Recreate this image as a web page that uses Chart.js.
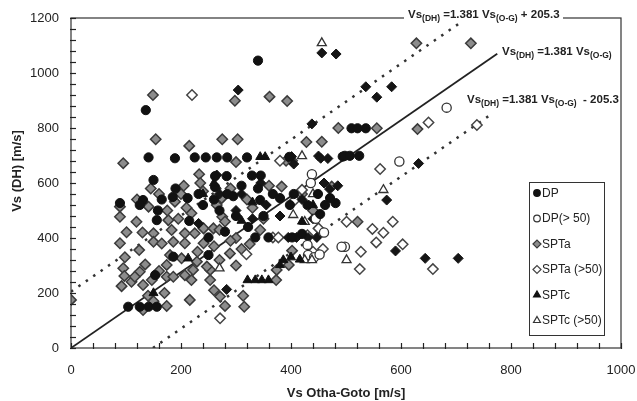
<!DOCTYPE html>
<html>
<head>
<meta charset="utf-8">
<script src="https://cdn.jsdelivr.net/npm/chart.js@4.4.0/dist/chart.umd.min.js"></script>
<style>
  html, body { margin: 0; padding: 0; background: #fff; }
  #wrap { width: 637px; height: 401px; }
</style>
</head>
<body>
<div id="wrap"><canvas id="myChart"></canvas></div>
<script>
// axis tick values (labels every 200, small marks every 40)
const xLabelTicks = [0, 200, 400, 600, 800, 1000];
const yLabelTicks = [0, 200, 400, 600, 800, 1000, 1200];

// DP, filled circles
const dpPoints = [
  [340,1045],[136,865],[141,693],[189,690],[225,693],[245,693],[265,693],[284,693],[320,693],
  [397,695],[494,696],[150,611],[262,625],[283,625],[329,627],[345,627],[510,799],[521,799],
  [536,799],[498,699],[507,699],[524,699],[89,527],[131,538],[165,540],[185,549],[104,150],
  [125,150],[141,150],[156,150],[153,265],[186,332],[250,338],[156,465],[280,423],[335,402],
  [359,402],[453,487],[481,527],[262,585],[344,538],[471,545],[284,560],[295,552],[367,560],
  [380,545],[398,520],[449,560],[462,520],[232,560],[212,545],[300,480],[322,440],[270,500],
  [240,520],[402,402],[420,415],[158,500],[215,462],[250,402],[190,580],[125,520],[310,590],
  [340,580],[405,560],[430,520],[350,480],[260,540]
];
// DP(> 50), open circles
const dpOpenPoints = [
  [438,632],[683,874],[597,678],[498,368],[492,368],[431,338],[442,330],[452,340],[430,375],
  [445,470],[460,420],[436,600]
];
// SPTa, grey diamonds
const sptaPoints = [
  [0,175],[95,672],[149,920],[154,759],[215,735],[233,632],[275,759],[303,759],[298,899],
  [361,914],[393,898],[428,749],[456,750],[486,800],[300,676],[391,681],[402,681],[628,1108],
  [727,1108],[556,799],[630,796],[521,459],[89,514],[89,477],[119,459],[101,421],[89,381],
  [98,330],[95,290],[97,262],[92,225],[110,241],[131,138],[174,153],[216,175],[124,356],
  [135,304],[125,277],[116,259],[131,229],[147,247],[150,417],[150,386],[183,429],[186,386],
  [180,338],[174,302],[174,259],[186,259],[177,465],[141,514],[207,417],[207,381],[201,326],
  [207,265],[229,314],[222,284],[219,247],[241,381],[241,435],[253,247],[253,284],[225,417],
  [247,296],[259,435],[189,532],[219,490],[275,477],[344,429],[325,378],[289,344],[402,354],
  [396,302],[374,284],[373,247],[271,187],[313,190],[315,150],[280,153],[274,545],[383,587],
  [474,587],[160,560],[175,500],[200,560],[210,510],[240,570],[265,520],[290,580],[330,510],
  [350,470],[420,560],[440,500],[300,400],[310,360],[270,320],[230,350],[260,370],[280,460],
  [195,470],[130,420],[165,380],[160,280],[140,190],[260,210],[290,390],[145,580],[120,540],
  [235,600],[205,590],[320,540],[360,590],[270,430],[300,300],[170,200],[150,170]
];
// SPTa (>50), open diamonds
const sptaOpenPoints = [
  [220,920],[380,681],[650,820],[738,811],[562,651],[501,459],[585,459],[548,433],[568,419],
  [555,384],[527,350],[525,287],[603,377],[658,287],[367,402],[377,402],[450,435],[319,341],
  [271,108],[420,575],[407,538],[430,410],[440,350],[458,360]
];
// SPTc, filled triangles
const sptcPoints = [
  [344,695],[353,695],[310,463],[213,326],[416,322],[386,320],[380,302],[321,247],[335,247],
  [347,247],[359,247],[400,330],[440,520],[420,460],[240,560],[330,530],[150,200],[260,600]
];
// SPTc (>50), open triangles
const sptcOpenPoints = [
  [456,1109],[420,698],[568,575],[501,320],[404,484],[425,459],[425,320],[438,320],[270,290],
  [440,560]
];
// black diamonds without a legend entry
const blackDiamondPoints = [
  [304,938],[456,1073],[482,1069],[536,950],[556,912],[583,950],[438,815],[405,669],[450,698],
  [467,689],[401,696],[632,671],[574,538],[590,353],[644,326],[704,326],[283,213],[232,453],
  [395,402],[410,402],[431,402],[447,402],[265,629],[355,520],[460,600],[470,578],[300,500],
  [330,470],[310,560],[420,540],[440,470],[380,480],[454,690],[270,560],[345,600],[485,590]
];
// line end points (Vs(DH) = 1.381 Vs(O-G) +/- 205.3)
const fitLine = [[0,0],[775,1070]];
const upperLine = [[0,205],[705,1179]];
const lowerLine = [[149,0],[765,851]];

const toXY = arr => arr.map(p => ({ x: p[0], y: p[1] }));

const ctx = document.getElementById('myChart');

const drawMarker = (c, style, x, y, r) => {
  c.beginPath();
  if (style === 'circle') {
    c.arc(x, y, r, 0, Math.PI * 2);
  } else if (style === 'rectRot') {
    c.moveTo(x - r, y); c.lineTo(x, y - r); c.lineTo(x + r, y); c.lineTo(x, y + r); c.closePath();
  } else {
    c.moveTo(x, y - r);
    c.lineTo(x + r * 0.866, y + r * 0.5);
    c.lineTo(x - r * 0.866, y + r * 0.5);
    c.closePath();
  }
  c.fill();
  c.stroke();
};

const drawEq = (c, x, base, tail) => {
  const parts = [['Vs', 0], ['(DH)', 1], [' =1.381 Vs', 0], ['(O-G)', 1], [tail, 0]];
  let cx = x;
  c.fillStyle = '#222';
  c.textAlign = 'left';
  c.textBaseline = 'alphabetic';
  parts.forEach(p => {
    c.font = p[1] ? 'bold 8.5px "Liberation Sans", Arial' : 'bold 11.5px "Liberation Sans", Arial';
    c.fillText(p[0], cx, base + (p[1] ? 2.5 : 0));
    cx += c.measureText(p[0]).width;
  });
  return cx;
};

const framePlugin = {
  id: 'frame',
  afterDatasetsDraw(chart) {
    const c = chart.ctx;
    const a = chart.chartArea;
    const xs = chart.scales.x, ys = chart.scales.y;
    c.save();
    c.strokeStyle = '#333';
    c.lineWidth = 1.2;
    c.strokeRect(a.left, a.top, a.right - a.left, a.bottom - a.top);
    // inward tick marks
    c.strokeStyle = '#222';
    c.lineWidth = 1.2;
    xs.ticks.forEach(t => {
      const px = Math.round(xs.getPixelForValue(t.value)) + 0.5;
      c.beginPath(); c.moveTo(px, a.bottom + 1); c.lineTo(px, a.bottom - 5); c.stroke();
    });
    ys.ticks.forEach(t => {
      const py = Math.round(ys.getPixelForValue(t.value)) + 0.5;
      c.beginPath(); c.moveTo(a.left - 1, py); c.lineTo(a.left + 5, py); c.stroke();
    });

    // y axis title
    c.save();
    c.translate(17, 171);
    c.rotate(-Math.PI / 2);
    c.fillStyle = '#222';
    c.font = 'bold 13px "Liberation Sans", Arial';
    c.textAlign = 'center';
    c.textBaseline = 'middle';
    c.fillText('Vs (DH) [m/s]', 0, 0);
    c.restore();

    // equation labels
    c.fillStyle = '#fff';
    c.fillRect(404, 8, 159, 12);
    drawEq(c, 408, 18, ' + 205.3');
    drawEq(c, 502, 55, '');
    drawEq(c, 467, 103, '  - 205.3');

    // legend box
    const lx = 529, ly = 182, lw = 75, lh = 153;
    c.fillStyle = '#fff';
    c.fillRect(lx, ly, lw, lh);
    c.strokeStyle = '#333';
    c.lineWidth = 1;
    c.strokeRect(lx + 0.5, ly + 0.5, lw, lh);
    const items = chart.data.datasets.filter(d => d.showInLegend);
    items.forEach((d, i) => {
      const y = 193 + i * 25.5;
      c.fillStyle = d.backgroundColor;
      c.strokeStyle = d.borderColor;
      c.lineWidth = 1.2;
      drawMarker(c, d.pointStyle, 537, y, d.pointStyle === 'circle' ? 3.3 : 4);
      c.fillStyle = '#222';
      c.font = '12px "Liberation Sans", Arial';
      c.textBaseline = 'middle';
      c.fillText(d.label, 542, y + 0.5);
    });
    c.restore();
  }
};

const mychart = () => {
  new Chart(ctx, {
    type: 'scatter',
    data: {
      datasets: [
        { label: 'DP', data: toXY(dpPoints), pointStyle: 'circle', pointRadius: 4.6,
          backgroundColor: '#111', borderColor: '#111', borderWidth: 1, showInLegend: true, order: 1 },
        { label: 'DP(> 50)', data: toXY(dpOpenPoints), pointStyle: 'circle', pointRadius: 4.6,
          backgroundColor: '#fff', borderColor: '#333', borderWidth: 1.3, showInLegend: true, order: 3 },
        { label: 'SPTa', data: toXY(sptaPoints), pointStyle: 'rectRot', pointRadius: 5.2,
          backgroundColor: '#8c8c8c', borderColor: '#3a3a3a', borderWidth: 1.5, showInLegend: true, order: 6 },
        { label: 'SPTa (>50)', data: toXY(sptaOpenPoints), pointStyle: 'rectRot', pointRadius: 5.2,
          backgroundColor: '#fff', borderColor: '#444', borderWidth: 1.5, showInLegend: true, order: 5 },
        { label: 'SPTc', data: toXY(sptcPoints), pointStyle: 'triangle', pointRadius: 5.2,
          backgroundColor: '#111', borderColor: '#111', borderWidth: 1, showInLegend: true, order: 0 },
        { label: 'SPTc (>50)', data: toXY(sptcOpenPoints), pointStyle: 'triangle', pointRadius: 5.2,
          backgroundColor: '#fff', borderColor: '#333', borderWidth: 1.3, showInLegend: true, order: 2 },
        { label: 'other', data: toXY(blackDiamondPoints), pointStyle: 'rectRot', pointRadius: 5,
          backgroundColor: '#151515', borderColor: '#151515', borderWidth: 1, order: 4 },
        { type: 'line', label: 'fit', data: toXY(fitLine), borderColor: '#222', borderWidth: 1.8,
          pointRadius: 0, fill: false, order: 10 },
        { type: 'line', label: 'upper', data: toXY(upperLine), borderColor: '#333', borderWidth: 2.5,
          borderDash: [2.5, 6.5], pointRadius: 0, fill: false, order: 10 },
        { type: 'line', label: 'lower', data: toXY(lowerLine), borderColor: '#333', borderWidth: 2.5,
          borderDash: [2.5, 6.5], pointRadius: 0, fill: false, order: 10 }
      ]
    },
    options: {
      responsive: true,
      maintainAspectRatio: false,
      animation: false,
      layout: { padding: { left: 0, right: 16, top: 18, bottom: 0 } },
      plugins: { legend: { display: false }, tooltip: { enabled: false } },
      scales: {
        x: {
          type: 'linear', min: 0, max: 1000,
          grid: { display: false },
          border: { display: false },
          ticks: {
            stepSize: 40, maxTicksLimit: 60, autoSkip: false, maxRotation: 0, padding: 7, color: '#222',
            font: { family: '"Liberation Sans", Arial', size: 13 },
            callback: v => xLabelTicks.includes(v) ? v : ''
          },
          title: { display: true, text: 'Vs Otha-Goto [m/s]', color: '#222',
            font: { family: '"Liberation Sans", Arial', size: 13, weight: 'bold' },
            padding: { top: 0, bottom: 0 } },
          afterFit: s => { s.height = 53; s.paddingLeft = 0; s.paddingRight = 0; }
        },
        y: {
          type: 'linear', min: 0, max: 1200,
          grid: { display: false },
          border: { display: false },
          ticks: {
            stepSize: 40, maxTicksLimit: 60, autoSkip: false, padding: 4, color: '#222',
            font: { family: '"Liberation Sans", Arial', size: 13 },
            callback: v => yLabelTicks.includes(v) ? v : ''
          },
          title: { display: false },
          afterFit: s => { s.width = 71; s.paddingTop = 0; s.paddingBottom = 0; }
        }
      }
    },
    plugins: [framePlugin]
  });
};

mychart();
</script>
</body>
</html>
